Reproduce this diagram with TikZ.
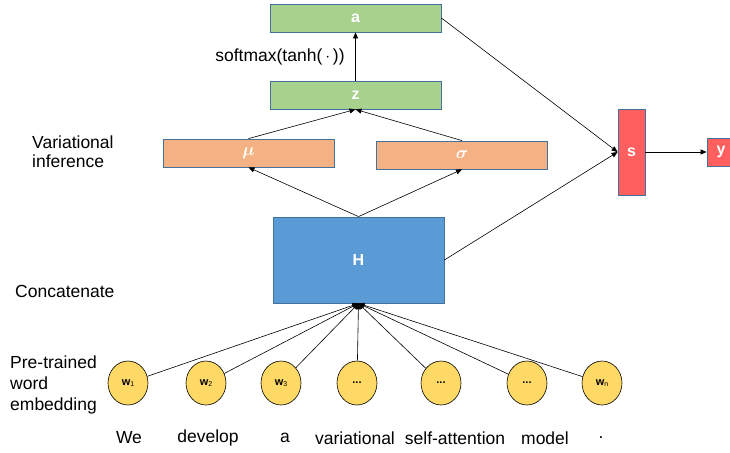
\documentclass[tikz,border=0pt]{standalone}
\usepackage{amsmath,amssymb,bm}
\usepackage{fontspec}
\setmainfont{Liberation Sans}
\usetikzlibrary{arrows.meta,shapes.geometric}
\definecolor{gbox}{HTML}{A9D18E}
\definecolor{obox}{HTML}{F4B183}
\definecolor{bbox}{HTML}{5B9BD5}
\definecolor{rbox}{HTML}{FF5F5F}
\definecolor{ybox}{HTML}{FFD966}
\definecolor{edge}{HTML}{41719C}
\begin{document}
\begin{tikzpicture}[x=1pt,y=-1pt,
  box/.style={draw=edge,line width=0.8pt,minimum height=28pt,inner sep=0pt,text=white,font=\fontsize{16}{18}\selectfont\bfseries},
  wbox/.style={box,minimum width=171pt},
  word/.style={draw=black,line width=0.6pt,fill=ybox,ellipse,minimum width=40pt,minimum height=44pt,inner sep=0pt,font=\fontsize{11}{12}\selectfont\bfseries},
  lbl/.style={inner sep=0pt,font=\fontsize{17.5}{21}\selectfont},
  arr/.style={-{Triangle[length=6pt,width=5pt]},line width=0.6pt}]
\useasboundingbox (0,0) rectangle (730,452);
\node[wbox,fill=gbox] (a) at (355.5,18) {a};
\node[wbox,fill=gbox] (z) at (355.5,95) {z};
\node[wbox,fill=obox,font=\fontsize{19}{20}\selectfont] (mu) at (248.5,153) {$\bm{\mu}$};
\node[wbox,fill=obox,font=\fontsize{19}{20}\selectfont] (sig) at (462,155) {$\bm{\sigma}$};
\node[box,fill=bbox,minimum width=171pt,minimum height=86pt] (H) at (358.5,260) {H};
\node[box,fill=rbox,minimum width=27pt,minimum height=86pt] (s) at (631.5,152) {s};
\node[box,fill=rbox,minimum width=28pt] (y) at (721,152) {y};
\node[lbl] (sm) at (280,57) {softmax(tanh(\,$\cdot$\,))};
\node[lbl,align=left,anchor=west] (vi) at (32,152) {Variational\\[-2pt]inference};
\node[lbl,anchor=west] (cc) at (15,291) {Concatenate};
\node[lbl,align=left,anchor=west] (pt) at (10,385) {Pre-trained\\word\\embedding};
\node[word] (w1) at (128,383) {w{\fontsize{7}{8}\selectfont\mdseries\raisebox{-1.5pt}{1}}};
\node[word] (w2) at (206,383) {w{\fontsize{7}{8}\selectfont\mdseries\raisebox{-1.5pt}{2}}};
\node[word] (w3) at (281,383) {w{\fontsize{7}{8}\selectfont\mdseries\raisebox{-1.5pt}{3}}};
\node[word] (w4) at (357,383) {...};
\node[word] (w5) at (441,383) {...};
\node[word] (w6) at (527,383) {...};
\node[word] (w7) at (602,383) {w{\fontsize{7}{8}\selectfont\mdseries\raisebox{-1.5pt}{n}}};
\foreach \t/\x in {We/129,develop/208,a/285,variational/355,self-attention/455,model/545,./601}
  \node[lbl] (t\x) at (\x,438) {\t};
\foreach \w in {w1,w2,w3,w4,w5,w6,w7}
  \draw[arr] (\w) -- (H.south);
\draw[arr] (H.north) -- (mu.south);
\draw[arr] (H.north) -- (sig.south);
\draw[arr] (mu.north) -- (z.south);
\draw[arr] (sig.north) -- (z.south);
\draw[arr] (z.north) -- (a.south);
\draw[arr] (a.east) -- (s.west);
\draw[arr] (H.east) -- (s.west);
\draw[arr] (s.east) -- (y.west);
\end{tikzpicture}
\end{document}
